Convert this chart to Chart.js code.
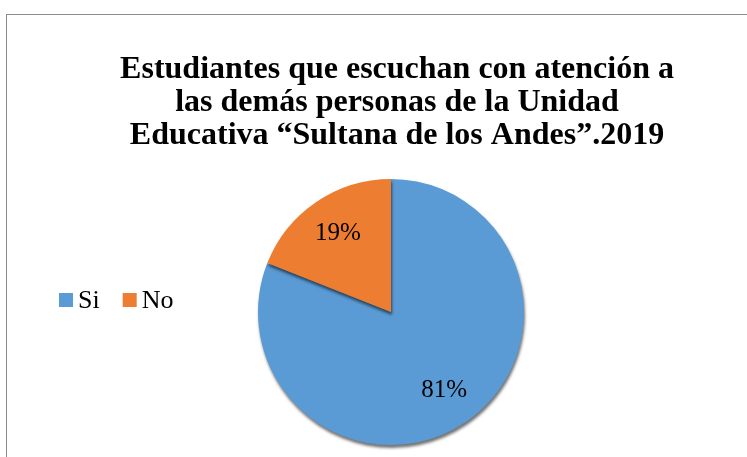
<!DOCTYPE html>
<html>
<head>
<meta charset="utf-8">
<script src="https://cdn.jsdelivr.net/npm/chart.js@4.4.1/dist/chart.umd.min.js"></script>
<style>
  html, body { margin: 0; padding: 0; background: #fff; overflow: hidden; }
  #frame { position: absolute; left: 6px; top: 14px; width: 800px; height: 500px;
           border-left: 1px solid #8c8c8c; border-top: 1px solid #8c8c8c; }
  #wrap { position: absolute; left: 0; top: 0; width: 747px; height: 457px; }
</style>
</head>
<body>
<div id="frame"></div>
<div id="wrap"><canvas id="pieChart"></canvas></div>
<script>
const categories = ['Si', 'No'];
const percentages = [81, 19];
const colors = ['#5b9bd5', '#ed7d31'];
const titleLines = [
    'Estudiantes que escuchan con atención a',
    'las demás personas de la Unidad',
    'Educativa “Sultana de los Andes”.2019'
];

const serif = '"Liberation Serif", "Times New Roman", serif';

// title drawn above the pie, centred a little right of the pie
const chartTitle = {
    id: 'chartTitle',
    afterDraw(chart) {
        const ctx = chart.ctx;
        ctx.save();
        ctx.font = 'bold 32px ' + serif;
        ctx.fillStyle = '#000';
        ctx.textAlign = 'center';
        ctx.textBaseline = 'middle';
        titleLines.forEach((line, i) => ctx.fillText(line, 397, 70 + i * 33));
        ctx.restore();
    }
};

// percentage labels inside the slices
const sliceLabels = {
    id: 'sliceLabels',
    afterDatasetsDraw(chart) {
        const ctx = chart.ctx;
        const meta = chart.getDatasetMeta(0);
        ctx.save();
        ctx.font = '25px ' + serif;
        ctx.fillStyle = '#000';
        ctx.textAlign = 'center';
        ctx.textBaseline = 'middle';
        meta.data.forEach((arc, i) => {
            const p = arc.getProps(['x', 'y', 'startAngle', 'endAngle', 'outerRadius']);
            const mid = (p.startAngle + p.endAngle) / 2;
            const r = p.outerRadius * 0.71;
            ctx.fillText(percentages[i] + '%', p.x + Math.cos(mid) * r, p.y + Math.sin(mid) * r);
        });
        ctx.restore();
    }
};

// shadow under the pie
const pieShadow = {
    id: 'pieShadow',
    beforeDatasetsDraw(chart) {
        const ctx = chart.ctx;
        ctx.save();
        ctx.shadowColor = 'rgba(0, 0, 0, 0.55)';
        ctx.shadowBlur = 3;
        ctx.shadowOffsetX = 1;
        ctx.shadowOffsetY = 3;
    },
    afterDatasetsDraw(chart) {
        chart.ctx.restore();
    }
};

// horizontal legend on the left side
const sideLegend = {
    id: 'sideLegend',
    afterDraw(chart) {
        const ctx = chart.ctx;
        ctx.save();
        ctx.font = '26px ' + serif;
        ctx.textBaseline = 'middle';
        let x = 59;
        const y = 300;
        categories.forEach((c, i) => {
            ctx.fillStyle = colors[i];
            ctx.fillRect(x, y - 7, 14, 14);
            ctx.fillStyle = '#000';
            ctx.fillText(c, x + 19, y + 1);
            x += 19 + ctx.measureText(c).width + 23;
        });
        ctx.restore();
    }
};

const ctx = document.getElementById('pieChart').getContext('2d');
const pieChart = new Chart(ctx, {
    type: 'pie',
    data: {
        labels: categories,
        datasets: [{
            data: percentages,
            backgroundColor: colors,
            borderWidth: 0
        }]
    },
    options: {
        responsive: true,
        maintainAspectRatio: false,
        animation: false,
        layout: {
            padding: { left: 257, right: 222, top: 179, bottom: 12 }
        },
        plugins: {
            legend: { display: false },
            tooltip: { enabled: false },
            title: { display: false }
        }
    },
    plugins: [pieShadow, sliceLabels, sideLegend, chartTitle]
});
</script>
</body>
</html>
